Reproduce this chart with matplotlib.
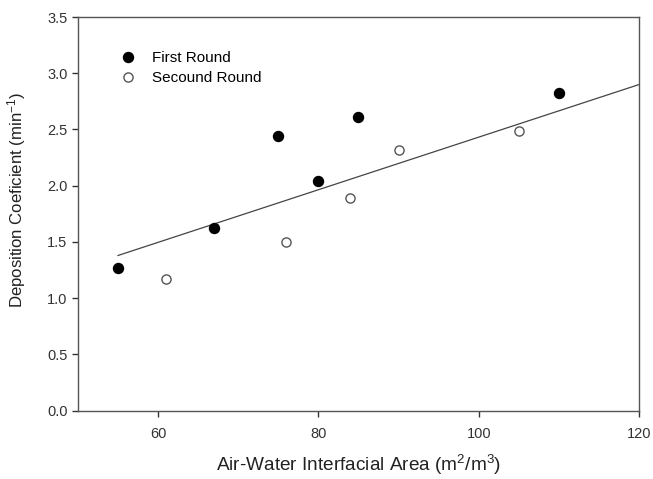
import numpy as np
import matplotlib
matplotlib.use("Agg")
import matplotlib.pyplot as plt

plt.rcParams['font.family'] = ['Liberation Sans', 'DejaVu Sans']
plt.rcParams['mathtext.fontset'] = 'custom'
plt.rcParams['mathtext.rm'] = 'Liberation Sans'
plt.rcParams['mathtext.it'] = 'Liberation Sans'
plt.rcParams['mathtext.default'] = 'regular'

first_x = [55, 67, 75, 80, 85, 110]
first_y = [1.27, 1.62, 2.44, 2.04, 2.61, 2.82]
second_x = [61, 76, 84, 90, 105]
second_y = [1.17, 1.50, 1.89, 2.32, 2.49]

# fitted trend line as drawn in the figure: slope and intercept
fit_slope = 0.02338
fit_intercept = 0.094
fit_x_range = [55, 120]

xticks = [60, 80, 100, 120]
yticks = [0.0, 0.5, 1.0, 1.5, 2.0, 2.5, 3.0, 3.5]

fig = plt.figure(figsize=(6.53, 4.79), dpi=100)
ax = fig.add_axes([0.1194, 0.1426, 0.8592, 0.8219])

lx = np.array(fit_x_range, dtype=float)
ax.plot(lx, fit_slope * lx + fit_intercept, color='#444444', lw=0.9)

ax.plot(first_x, first_y, 'o', color='black', markersize=7.2, label='First Round', ls='none')
ax.plot(second_x, second_y, 'o', markerfacecolor='white', markeredgecolor='#555555',
        markeredgewidth=1.0, markersize=6.6, label='Secound Round', ls='none')

ax.set_xlim(50, 120)
ax.set_ylim(0, 3.5)
ax.set_xticks(xticks)
ax.set_yticks(yticks)
ax.set_yticklabels([f"{v:.1f}" for v in yticks])
ax.tick_params(direction='out', length=4.5, width=1, labelsize=10.5, colors='#333333', labelcolor='#333333')
ax.tick_params(axis='x', pad=7)
ax.tick_params(axis='y', pad=3)
for s in ax.spines.values():
    s.set_color('#555555')
    s.set_linewidth(1.0)

ax.set_xlabel('Air-Water Interfacial Area (m$^2$/m$^3$)', fontsize=13.7, color='#222222', labelpad=9)
ax.set_ylabel('Deposition Coeficient (min$^{-1}$)', fontsize=12.1, color='#222222')
ax.yaxis.set_label_coords(-0.089, 0.535)

ax.legend(loc='upper left', bbox_to_anchor=(0.045, 0.948), frameon=False, fontsize=11,
          handletextpad=0.8, labelspacing=0.4, markerscale=1.0, handlelength=1.5)

fig.savefig('out.png', dpi=100)
